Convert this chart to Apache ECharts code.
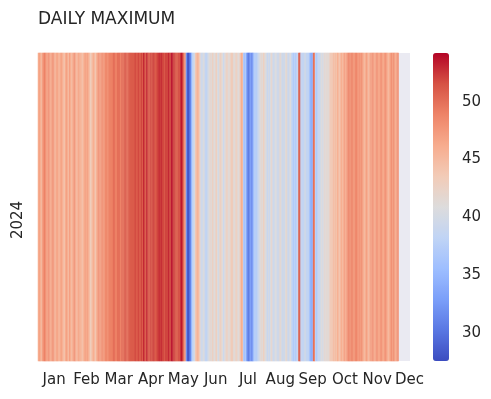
<!DOCTYPE html>
<html>
<head>
<meta charset="utf-8">
<script src="https://cdn.jsdelivr.net/npm/echarts@6/dist/echarts.min.js"></script>
<style>
  html, body { margin: 0; padding: 0; background: #fff; }
  #chart { width: 491px; height: 399px; }
</style>
</head>
<body>
<div id="chart"></div>
<script>
// one row, one column per day (null = no reading)
var years = ['2024'];
var months = ['Jan', 'Feb', 'Mar', 'Apr', 'May', 'Jun', 'Jul', 'Aug', 'Sep', 'Oct', 'Nov', 'Dec'];
var dailyMax = [
  46,47,46,45,47,48,49,48,47,47,
  48,47,46,47,48,47,45,46,47,46,
  45,46,47,46,45,44,46,47,46,45,
  47,46,45,46,47,48,46,45,46,47,
  45,46,44,45,46,47,46,47,46,45,
  43,44,45,46,45,44,46,47,48,47,
  47,48,48,47,48,49,48,48,49,49,
  49,49,50,50,49,49,50,50,50,49,
  50,50,50,51,51,50,50,51,51,51,
  51,51,51,52,51,51,52,51,51,52,
  51,53,52,51,53,52,51,51,52,51,
  52,52,51,51,52,52,53,52,53,52,
  52,51,52,52,52,53,52,52,54,53,
  52,52,51,51,51,52,51,54,53,51,
  48,47,33,29,28,30,31,35,38,39,
  40,44,45,46,45,43,40,39,40,41,
  39,38,39,40,41,42,41,43,42,41,
  42,43,41,40,42,43,42,41,39,41,
  42,43,42,41,42,43,44,42,41,42,
  43,42,41,42,44,46,45,37,36,37,
  33,31,30,32,33,31,34,37,38,37,
  38,39,40,41,42,41,43,42,41,40,
  39,40,39,41,42,40,39,40,41,40,
  39,40,42,41,39,40,39,41,42,40,
  39,40,41,39,38,37,38,37,38,39,
  51,51,38,39,38,39,40,39,38,39,
  37,35,34,35,50,49,38,37,38,39,
  39,40,41,40,41,42,41,42,41,42,
  43,44,43,45,44,45,44,46,45,44,
  45,46,45,46,47,46,47,48,49,48,
  48,49,48,47,48,49,48,47,48,47,
  48,47,46,45,46,47,46,45,46,47,
  47,48,47,46,47,48,47,46,47,48,
  47,46,47,48,47,46,45,46,47,48,
  47,48,47,46,47,48,
  null,null,null,null,null,null,null,null,null,null,null
];
var colorMin = 27.6, colorMax = 54.2;
var cbTicks = [30, 35, 40, 45, 50];

var days = dailyMax.map(function (v, i) { return String(i); });
var cells = dailyMax.map(function (v, i) { return [i, 0, v == null ? '-' : v]; });

var coolwarm = ['#3b4cc0', '#5977e3', '#7b9ff9', '#9ebeff', '#c0d4f5', '#dddcdc',
                '#f2cbb7', '#f7ac8e', '#ee8468', '#d65244', '#b40426'];
var txt = '#262626';
var font = 'DejaVu Sans';

var chart = echarts.init(document.getElementById('chart'));
chart.setOption({
  animation: false,
  backgroundColor: '#fff',
  title: {
    text: 'DAILY MAXIMUM',
    left: 33, top: 6,
    textStyle: { fontFamily: font, fontSize: 17, fontWeight: 'normal', color: txt }
  },
  grid: [
    { left: 38, top: 53, width: 372, height: 308, show: true, backgroundColor: '#eaeaf2', borderWidth: 0 },
    { left: 433, top: 53, width: 16, height: 308, show: false }
  ],
  xAxis: [{
    gridIndex: 0,
    type: 'category',
    data: days,
    axisLine: { show: false },
    axisTick: { show: false },
    splitLine: { show: false },
    axisLabel: {
      margin: 12,
      fontFamily: font, fontSize: 15, color: txt,
      interval: function (i) { return i >= 15 && (i - 15) % 31 === 0; },
      formatter: function (v, i) { return months[(i - 15) / 31] || ''; }
    }
  }, {
    gridIndex: 1, type: 'value', show: false, min: 0, max: 1
  }],
  yAxis: [{
    gridIndex: 0,
    type: 'category',
    data: years,
    axisLine: { show: false },
    axisTick: { show: false },
    splitLine: { show: false },
    axisLabel: {
      rotate: 90, margin: 12, fontFamily: font, fontSize: 15, color: txt,
      formatter: '{y|{value}}',
      rich: { y: { fontFamily: font, fontSize: 15, color: txt, padding: [0, 26, 0, 0] } }
    }
  }, {
    gridIndex: 1,
    type: 'value',
    position: 'right',
    min: colorMin, max: colorMax,
    axisLine: { show: false },
    splitLine: { show: false },
    axisTick: { show: true, length: 7, inside: false, lineStyle: { color: txt, width: 1.2 },
      customValues: cbTicks },
    axisLabel: { margin: 13, fontFamily: font, fontSize: 15, color: txt, customValues: cbTicks }
  }],
  visualMap: {
    type: 'continuous',
    seriesIndex: 0,
    min: colorMin, max: colorMax,
    calculable: false,
    left: 433, top: 53,
    itemWidth: 16, itemHeight: 308,
    padding: 0,
    text: null,
    showLabel: false,
    inRange: { color: coolwarm }
  },
  series: [{
    type: 'heatmap',
    xAxisIndex: 0, yAxisIndex: 0,
    data: cells,
    itemStyle: { borderWidth: 0 },
    emphasis: { disabled: true }
  }, {
    type: 'scatter',
    xAxisIndex: 1, yAxisIndex: 1,
    data: [],
    silent: true
  }]
});
</script>
</body>
</html>
